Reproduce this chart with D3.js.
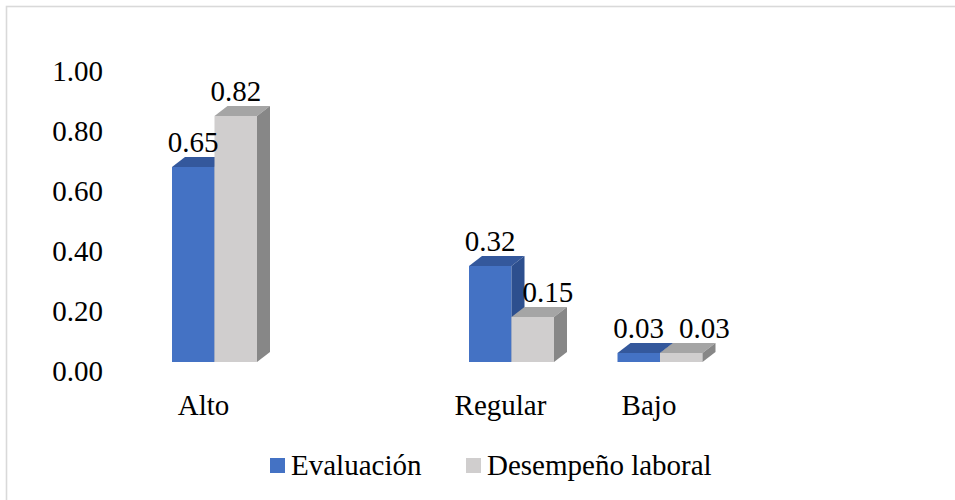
<!DOCTYPE html>
<html>
<head>
<meta charset="utf-8">
<script src="https://cdn.jsdelivr.net/npm/d3@7"></script>
</head>
<body style="margin:0;background:#ffffff">
<svg id="chart" width="955" height="500" style="display:block"></svg>
<script>
// ---- data ----
const categories = ["Alto", "", "Regular", "Bajo"];
const seriesNames = ["Evaluación", "Desempeño laboral"];
const evaluacion = [0.65, null, 0.32, 0.03];
const desempeno = [0.82, null, 0.15, 0.03];
const yTicks = [0, 0.2, 0.4, 0.6, 0.8, 1.0];

// ---- style ----
const fontSize = 29;
const depthX = 13, depthY = 10;
const colors = [
  { front: "#4472c4", top: "#34589c", side: "#2d4f8e" },
  { front: "#d0cece", top: "#a5a5a5", side: "#878787" }
];

const svg = d3.select("#chart");
function styleText(sel) {
  sel.attr("font-family", "Liberation Serif")
     .style("font-family", '"Liberation Serif"', "important")
     .attr("font-size", fontSize).attr("fill", "#000");
}

// outer border (extends past the viewport on right/bottom)
svg.append("rect")
  .attr("x", 6.5).attr("y", 6.5)
  .attr("width", 960).attr("height", 510)
  .attr("fill", "none").attr("stroke", "#d9d9d9").attr("stroke-width", 1.6);

// scales
const x = d3.scaleBand().domain(categories).range([140.25, 734.25])
  .paddingInner(0.4276).paddingOuter(0.2138);
const xs = d3.scaleBand().domain(seriesNames).range([0, x.bandwidth()]).padding(0);
const y = d3.scaleLinear().domain([0, 1]).range([362, 62]);
const yLab = d3.scaleLinear().domain([0, 1]).range([371.5, 72]);
const fmt = d3.format(".2f");

// y axis labels (drawn from the label scale)
svg.selectAll("text.ytick").data(yTicks).join("text").attr("class", "ytick")
  .call(styleText).attr("text-anchor", "end")
  .attr("x", 103).attr("y", d => yLab(d)).attr("dy", "0.32em")
  .text(d => fmt(d));

// bars
const series = [evaluacion, desempeno];
const base = y(0);
const barInfo = categories.map(() => []);
categories.forEach((cat, ci) => {
  series.forEach((vals, si) => {
    const v = vals[ci];
    if (v == null) return;
    const bx = x(cat) + xs(seriesNames[si]);
    const w = xs.bandwidth();
    const top = y(v);
    const c = colors[si];
    svg.append("rect").attr("x", bx).attr("y", top).attr("width", w).attr("height", base - top)
      .attr("fill", c.front);
    svg.append("polygon").attr("points", [
      [bx, top], [bx + depthX, top - depthY], [bx + w + depthX, top - depthY], [bx + w, top]
    ].map(p => p.join(",")).join(" ")).attr("fill", c.top);
    svg.append("polygon").attr("points", [
      [bx + w, top], [bx + w + depthX, top - depthY], [bx + w + depthX, base - depthY], [bx + w, base]
    ].map(p => p.join(",")).join(" ")).attr("fill", c.side);
    barInfo[ci][si] = { bx, w, top, v };
  });
});

// data labels
categories.forEach((cat, ci) => {
  const info = barInfo[ci];
  if (!info.length) return;
  const b = info[0];
  const tb = svg.append("text").call(styleText).attr("text-anchor", "middle")
    .attr("x", b.bx + b.w / 2).attr("y", b.top - depthY - 5).text(fmt(b.v));
  const bw = tb.node().getComputedTextLength();
  const blueLabel = { l: b.bx + b.w / 2 - bw / 2, r: b.bx + b.w / 2 + bw / 2,
                      t: b.top - depthY - 5 - fontSize * 0.66, btm: b.top - depthY - 5 };
  const g = info[1];
  const tg = svg.append("text").call(styleText).attr("text-anchor", "start")
    .attr("y", g.top - depthY - 5).text(fmt(g.v));
  const gw = tg.node().getComputedTextLength();
  let left = g.bx + g.w / 2 - gw / 2;
  const gt = g.top - depthY - 5 - fontSize * 0.66, gb = g.top - depthY - 5;
  const vOverlapLabel = gt < blueLabel.btm && gb > blueLabel.t;
  const vOverlapBar = gb > b.top - depthY;
  if (vOverlapLabel && left < blueLabel.r) left = blueLabel.r + 15;
  else if (vOverlapBar && left < b.bx + b.w + depthX) left = b.bx + b.w + depthX - 2;
  tg.attr("x", left);
});

// category labels
svg.selectAll("text.cat").data(categories.filter(d => d !== "")).join("text").attr("class", "cat")
  .call(styleText).attr("text-anchor", "middle")
  .attr("x", d => x(d) + x.bandwidth() / 2 - 11)
  .attr("y", 415)
  .text(d => d);

// legend
const legendX = [270, 466];
seriesNames.forEach((s, i) => {
  svg.append("rect").attr("x", legendX[i]).attr("y", 458).attr("width", 15).attr("height", 15)
    .attr("fill", colors[i].front);
  svg.append("text").call(styleText).attr("x", legendX[i] + 21).attr("y", 475).text(s);
});
</script>
</body>
</html>
